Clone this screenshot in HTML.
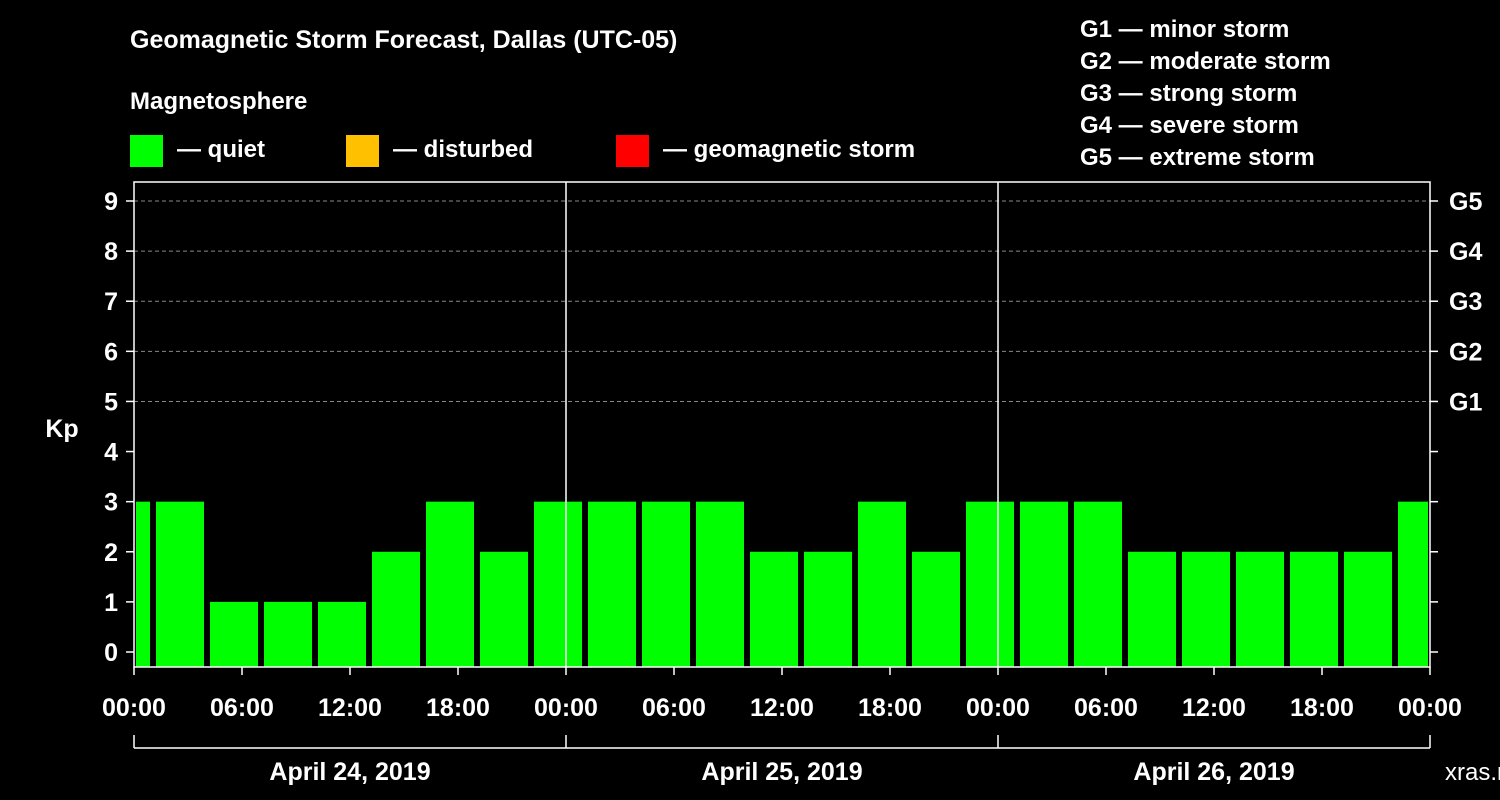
<!DOCTYPE html>
<html><head><meta charset="utf-8"><style>
body{margin:0;background:#000;}
svg{display:block;font-family:"Liberation Sans",Arial,sans-serif;font-weight:bold;}
</style></head><body>
<svg id="c" width="1500" height="800" viewBox="0 0 1500 800">
<rect width="1500" height="800" fill="#000"/>
<text x="130" y="48" fill="#fff" font-size="25">Geomagnetic Storm Forecast, Dallas (UTC-05)</text>
<text x="130" y="109" fill="#fff" font-size="24">Magnetosphere</text>
<g><rect x="130" y="135" width="33" height="32" fill="#00ff00"/><text x="177" y="157" fill="#fff" font-size="24">— quiet</text></g>
<g><rect x="346" y="135" width="33" height="32" fill="#ffc000"/><text x="393" y="157" fill="#fff" font-size="24">— disturbed</text></g>
<g><rect x="616" y="135" width="33" height="32" fill="#ff0000"/><text x="663" y="157" fill="#fff" font-size="24">— geomagnetic storm</text></g>
<g fill="#fff" font-size="24">
<text x="1080" y="37">G1 — minor storm</text>
<text x="1080" y="69">G2 — moderate storm</text>
<text x="1080" y="101">G3 — strong storm</text>
<text x="1080" y="133">G4 — severe storm</text>
<text x="1080" y="165">G5 — extreme storm</text>
</g>
<text x="62" y="437" fill="#fff" font-size="25" text-anchor="middle">Kp</text>
<text x="1445" y="780" fill="#fff" font-size="24" font-weight="normal">xras.ru</text>
<g id="plot"></g>
</svg>
<script>
const kpValues=[3, 3,1,1,1,2,3,2,3, 3,3,3,2,2,3,2,3, 3,3,2,2,2,2,2,3];
const barStartHours=[-2, 1,4,7,10,13,16,19,22, 25,28,31,34,37,40,43,46, 49,52,55,58,61,64,67,70];
const yTicks=[0,1,2,3,4,5,6,7,8,9];
const gLevels=[5,6,7,8,9];
const gLabels=["G1","G2","G3","G4","G5"];
const xTickLabels=["00:00","06:00","12:00","18:00","00:00","06:00","12:00","18:00","00:00","06:00","12:00","18:00","00:00"];
const dayLabels=["April 24, 2019","April 25, 2019","April 26, 2019"];
const X0=134,X1=1430,PT=182,PB=667,HOURS=72;
const xs=h=>X0+(X1-X0)*h/HOURS;
const ys=v=>652-v*(652-201)/9;
const NS="http://www.w3.org/2000/svg";
const g=document.getElementById('plot');
function mk(t,a){const e=document.createElementNS(NS,t);for(const k in a)e.setAttribute(k,a[k]);g.appendChild(e);return e;}
// grid
gLevels.forEach((v,i)=>{
 const l=mk('line',{x1:X0,x2:X1,y1:ys(v),y2:ys(v),stroke:'#888','stroke-dasharray':'4,3','stroke-width':1});
 
 
 const t=mk('text',{x:1449,y:ys(v)+9,fill:'#fff','font-size':25});
 t.textContent=gLabels[i];
 
 
});
// bars
kpValues.forEach((v,i)=>{
 let a=Math.max(xs(barStartHours[i])+4,X0+2), b=Math.min(xs(barStartHours[i]+3)-2,X1-2);
 const r=mk('rect',{x:a,y:ys(v),width:b-a,height:PB-ys(v),fill:'#00ff00'});
 
 
});
// frame
const fr=mk('rect',{x:X0,y:PT,width:X1-X0,height:PB-PT,fill:'none',stroke:'#fff','stroke-width':1.5});


[24,48].forEach(h=>{const l=mk('line',{x1:xs(h),x2:xs(h),y1:PT,y2:PB,stroke:'#fff','stroke-width':1.5});
 
 });
// y ticks
yTicks.forEach(v=>{
 mk('line',{x1:X0-8,x2:X0,y1:ys(v),y2:ys(v),stroke:'#fff','stroke-width':1.5});
 mk('line',{x1:X1,x2:X1+8,y1:ys(v),y2:ys(v),stroke:'#fff','stroke-width':1.5});
 const t=mk('text',{x:118,y:ys(v)+9,fill:'#fff','font-size':25,'text-anchor':'end'});
 t.textContent=v;
 
 
});
// x ticks
xTickLabels.forEach((s,i)=>{
 const x=xs(i*6);
 mk('line',{x1:x,x2:x,y1:PB,y2:PB+8,stroke:'#fff','stroke-width':1.5});
 const t=mk('text',{x:x,y:716,fill:'#fff','font-size':25,'text-anchor':'middle'});
 t.textContent=s;
 
 
});
// day brackets
mk('line',{x1:X0,x2:X1,y1:748,y2:748,stroke:'#fff','stroke-width':1.5});
[0,24,48,72].forEach(h=>mk('line',{x1:xs(h),x2:xs(h),y1:735,y2:748,stroke:'#fff','stroke-width':1.5}));
dayLabels.forEach((s,i)=>{
 const t=mk('text',{x:xs(i*24+12),y:780,fill:'#fff','font-size':25,'text-anchor':'middle'});
 t.textContent=s;
 
 
});
</script>
</body></html>
